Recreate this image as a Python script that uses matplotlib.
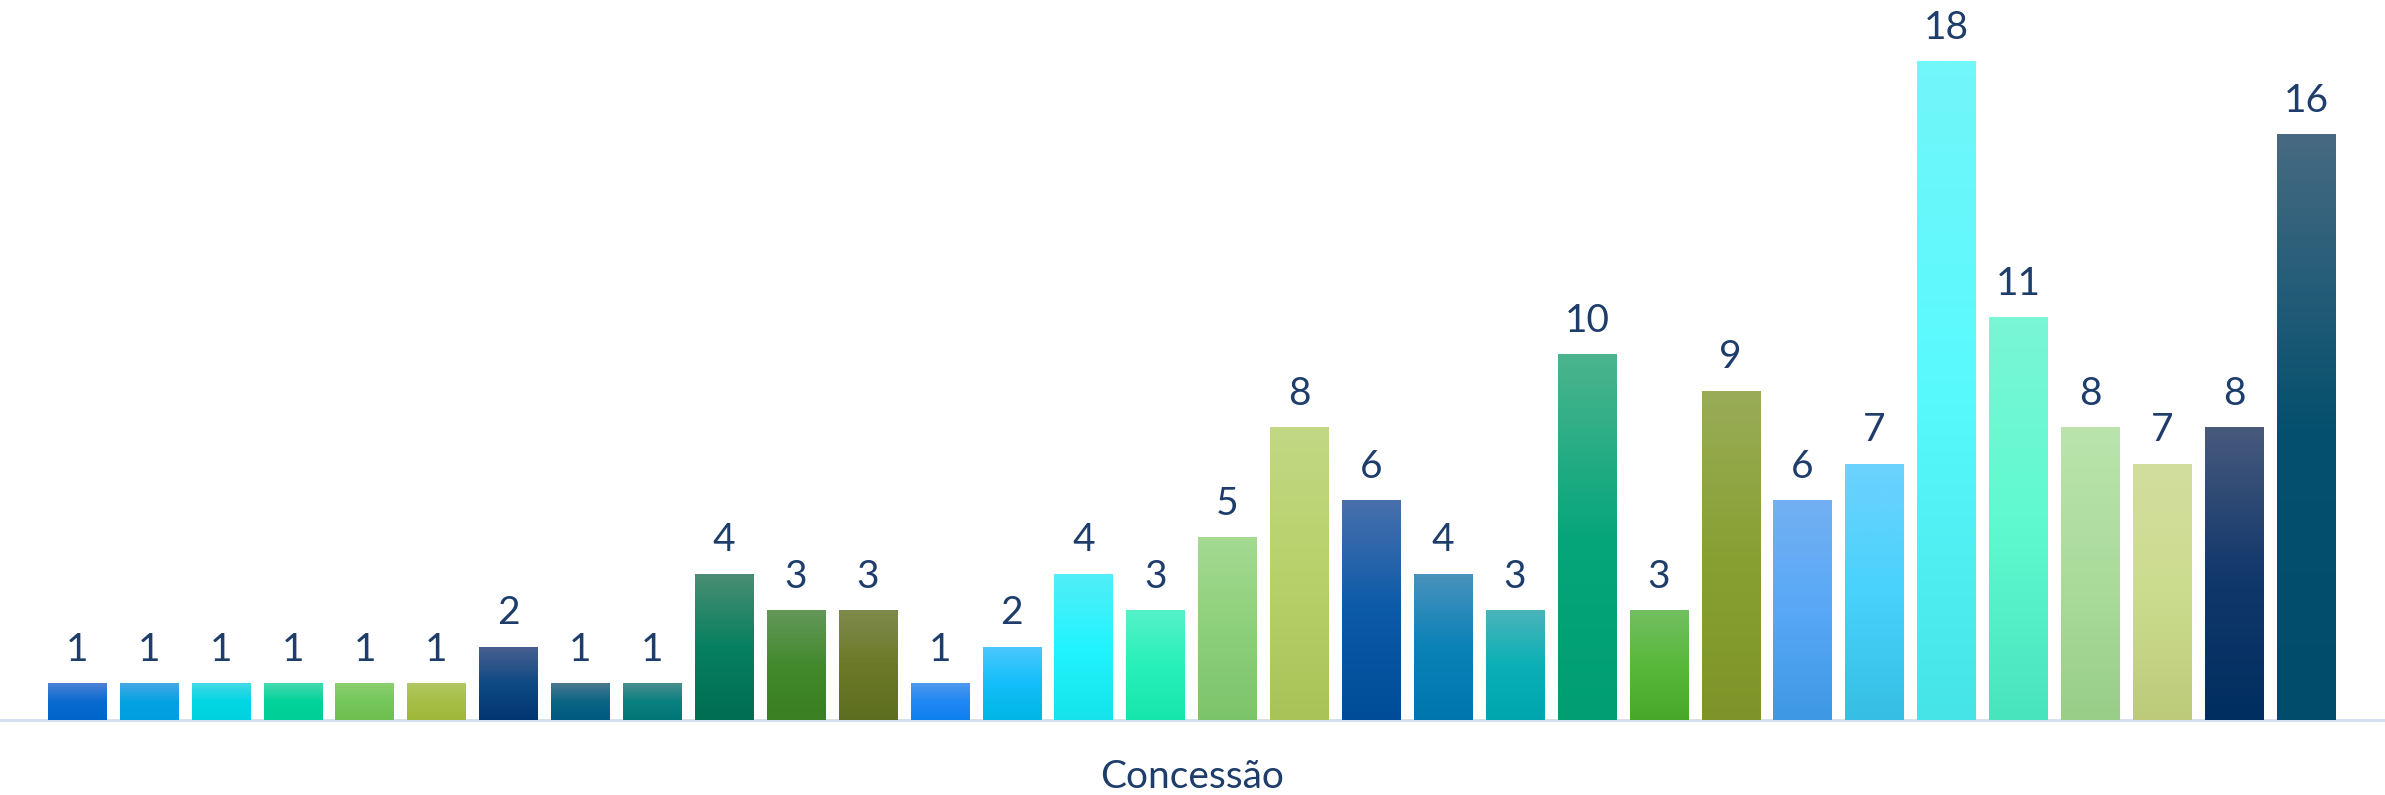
import numpy as np
import matplotlib
matplotlib.use("Agg")
import matplotlib.pyplot as plt
from matplotlib.colors import to_rgb

# ---- data ----
values = [1, 1, 1, 1, 1, 1, 2, 1, 1, 4, 3, 3, 1, 2, 4, 3, 5, 8, 6, 4, 3, 10, 3, 9, 6, 7, 18, 11, 8, 7, 8, 16]
xlabel = "Concessão"

# ---- styles (gradient stops per bar: top, middle, bottom) ----
tops = ["#4D82D6", "#45A9E6", "#45D9E6", "#45D9AD", "#8CD070", "#B2C862",
        "#4A6090", "#4A7890", "#4A8E90", "#4B8E74", "#64985A", "#7E8A4C",
        "#4F98EE", "#4CC8FF", "#52EEF8", "#55F2C8", "#A4DA92", "#C2D884",
        "#4870AC", "#4A92BC", "#4AB4BA", "#4CB48E", "#72C062", "#9AAC58",
        "#72B0F2", "#6CD2FE", "#72F6FA", "#7AF6D4", "#BAE4AC", "#D2DE9E",
        "#485A7C", "#476A82"]
mids = ["#0A6AD0", "#05A2E2", "#00D6E2", "#02D39C", "#74C75A", "#A6BE45",
        "#0F4A85", "#0A6585", "#0A8080", "#07805E", "#428A2C", "#6C7A28",
        "#2088F4", "#14BEF8", "#22F4FE", "#28F0BA", "#8DD07A", "#B7D26A",
        "#0B5AA8", "#0A82B8", "#0AB0B6", "#06A67A", "#58B83A", "#88A032",
        "#58A8F6", "#48D2FC", "#58FAFE", "#60FAD0", "#ABDC9C", "#CCDC8E",
        "#12386C", "#05506E"]
bottoms = ["#0066CC", "#009FDF", "#00D3DF", "#00CF96", "#6DC04E", "#9FB83A",
           "#003670", "#005880", "#007777", "#006E50", "#3A7F22", "#5E6E20",
           "#0E7FEE", "#00B6E6", "#14E4EA", "#16E6AC", "#7CC46A", "#A8C458",
           "#004C98", "#0076AE", "#00A6AE", "#009E70", "#48A82A", "#7F9428",
           "#3E98E4", "#36BEE4", "#46E4E6", "#48E4BE", "#98CE88", "#BCCA7A",
           "#002E60", "#004C6A"]

text_color = "#1F3D6B"
plt.rcParams['font.family'] = ['Lato', 'DejaVu Sans']

W, H, DPI = 2385, 795, 100
fig = plt.figure(figsize=(W / DPI, H / DPI), dpi=DPI)
# axes spanning full width; baseline at 720 px from top
base_px = 720
px_per_unit = 36.6
ax = fig.add_axes([0, (H - base_px) / H, 1, base_px / H])
ax.set_axis_off()

pitch = 71.9
first_center = 77.0
xl = -first_center / pitch
xr = (W - first_center) / pitch

x = np.arange(len(values))
bars = ax.bar(x, values, width=0.81, color="none", edgecolor="none", zorder=2)

def gradient_img(top, mid, bot, n=256):
    t = np.linspace(0, 1, n)[:, None]  # 0 = top, 1 = bottom
    ct, cm, cb = (np.array(to_rgb(c)) for c in (top, mid, bot))
    img = np.where(t < 0.5,
                   ct + (cm - ct) * (t / 0.5),
                   cm + (cb - cm) * ((t - 0.5) / 0.5))
    return img[:, None, :].repeat(2, axis=1).reshape(n, 2, 3)

for i, (b, v) in enumerate(zip(bars, values)):
    x0 = b.get_x()
    w = b.get_width()
    im = ax.imshow(gradient_img(tops[i], mids[i], bottoms[i]),
                   extent=(x0, x0 + w, 0, v), aspect='auto',
                   origin='upper', zorder=2, interpolation='bilinear')
    im.set_clip_path(b)
    ax.annotate(str(v), (x0 + w / 2, v), xytext=(0, 24), textcoords='offset points',
                ha='center', va='center', fontsize=28, color=text_color, zorder=3)

ax.set_xlim(xl, xr)
ax.set_ylim(0, base_px / px_per_unit)

# baseline axis line
ax.axhline(0, color="#D5E1EF", linewidth=2.2, zorder=1, clip_on=False)

fig.text(1192 / W, 1 - 777 / H, xlabel, ha='center', va='center',
         fontsize=28, color=text_color)

fig.savefig("out.png", dpi=DPI, facecolor="white")
